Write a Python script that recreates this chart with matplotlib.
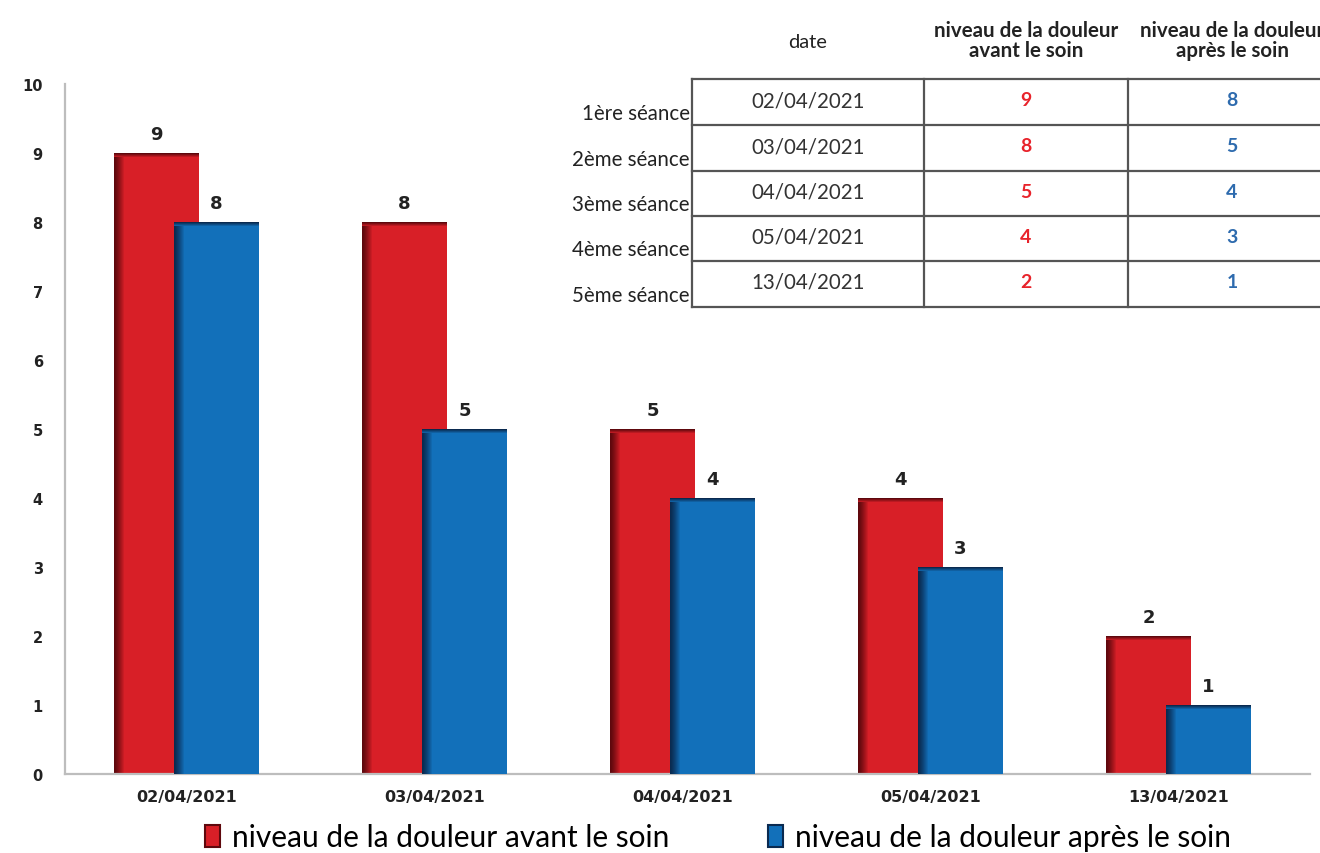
import matplotlib
matplotlib.use("Agg")
import matplotlib.pyplot as plt
from matplotlib.patches import Rectangle
import numpy as np

# Pain level per session, before and after care
dates = ["02/04/2021", "03/04/2021", "04/04/2021", "05/04/2021", "13/04/2021"]
sessions = ["1ère séance", "2ème séance", "3ème séance", "4ème séance", "5ème séance"]
avant = [9, 8, 5, 4, 2]
apres = [8, 5, 4, 3, 1]
label_avant = "niveau de la douleur avant le soin"
label_apres = "niveau de la douleur après le soin"
col_headers = ["date", "niveau de la douleur\navant le soin", "niveau de la douleur\naprès le soin"]
yticks = list(range(0, 11))

RED, RED_DARK = "#D81F27", "#5E080D"
BLUE, BLUE_DARK = "#1270BA", "#0A2A50"
TXT = "#222222"

W, H = 1320, 854
fig = plt.figure(figsize=(W / 100, H / 100), dpi=100)
ax = fig.add_axes([65 / W, 1 - 775 / H, 1245 / W, 690 / H])

x = np.arange(len(dates))
bw = 0.343
off = 0.121


def shade(bars, main, dark):
    """Give each bar a darker left edge and top rim."""
    cd = np.array(matplotlib.colors.to_rgb(dark))
    cm = np.array(matplotlib.colors.to_rgb(main))
    for b in bars:
        x0, w, h = b.get_x(), b.get_width(), b.get_height()
        n = 10
        edge = w * 0.12
        for i in range(n):
            t = (i / n) ** 1.3
            c = cd * (1 - t) + cm * t
            ax.add_patch(Rectangle((x0 + edge * i / n, 0), edge / n * 1.05, h,
                                   facecolor=c, edgecolor="none", zorder=b.get_zorder() + 0.1))
        rim = 0.06
        for i in range(4):
            t = i / 4
            c = cd * (1 - t) + cm * t
            ax.add_patch(Rectangle((x0, h - rim * (i + 1) / 4), w, rim / 4 * 1.05,
                                   facecolor=c, edgecolor="none", zorder=b.get_zorder() + 0.2))


b1 = ax.bar(x - off, avant, bw, color=RED, zorder=2, label=label_avant)
shade(b1, RED, RED_DARK)
b2 = ax.bar(x + off, apres, bw, color=BLUE, zorder=3, label=label_apres)
shade(b2, BLUE, BLUE_DARK)

for xi, v in zip(x - off, avant):
    ax.annotate(str(v), (xi, v), xytext=(0, 7), textcoords="offset points",
                ha="center", va="bottom", fontsize=13, fontweight="bold", color=TXT)
for xi, v in zip(x + off, apres):
    ax.annotate(str(v), (xi, v), xytext=(0, 7), textcoords="offset points",
                ha="center", va="bottom", fontsize=13, fontweight="bold", color=TXT)

ax.set_xlim(-0.49, 4.53)
ax.set_ylim(0, 10)
ax.set_yticks(yticks)
ax.set_yticklabels([str(t) for t in yticks], fontsize=10.5, fontweight="bold", color=TXT)
ax.set_xticks(x)
ax.set_xticklabels(dates, fontsize=11.5, fontweight="bold", color=TXT)
ax.tick_params(axis="y", length=0, pad=16)
ax.tick_params(axis="x", length=0, pad=11)
for s in ["top", "right"]:
    ax.spines[s].set_visible(False)
for s in ["left", "bottom"]:
    ax.spines[s].set_color("#BDBDBD")
    ax.spines[s].set_linewidth(1.6)

# legend at the bottom
handles = [Rectangle((0, 0), 1, 1, facecolor=RED, edgecolor=RED_DARK, linewidth=1.5),
           Rectangle((0, 0), 1, 1, facecolor=BLUE, edgecolor=BLUE_DARK, linewidth=1.5)]
fig.legend(handles, [label_avant, label_apres], loc="center",
           bbox_to_anchor=(718 / W, 1 - 838 / H), ncol=2, frameon=False,
           prop={"family": "Lato", "size": 21.5}, handlelength=0.5, handleheight=0.75,
           handletextpad=0.4, columnspacing=3.3)

# data table in the upper right, drawn in pixel coordinates
tx = fig.add_axes([0, 0, 1, 1], facecolor="none")
tx.set_xlim(0, W)
tx.set_ylim(H, 0)
tx.axis("off")
cols = [692, 924, 1128, 1340]
rows = [80, 126, 172, 217, 262, 308]
lc = "#555555"
for yy in rows:
    tx.plot([cols[0], cols[-1]], [yy, yy], color=lc, lw=1.6, clip_on=False)
for xx in cols[:-1]:
    tx.plot([xx, xx], [rows[0], rows[-1]], color=lc, lw=1.6)

tx.text(808, 42, col_headers[0], ha="center", va="center", fontsize=14.5,
        family="Lato", color=TXT)
tx.text(1026, 41, col_headers[1], ha="center", va="center", fontsize=14.8,
        family="Lato", fontweight="bold", color=TXT, linespacing=1.05)
tx.text(1232, 41, col_headers[2], ha="center", va="center", fontsize=14.8,
        family="Lato", fontweight="bold", color=TXT, linespacing=1.05)

for i in range(len(dates)):
    yc = (rows[i] + rows[i + 1]) / 2
    tx.text(690, rows[i + 1] - 12, sessions[i], ha="right", va="center", fontsize=14.8,
            family="Lato", color=TXT)
    tx.text(808, yc - 2, dates[i], ha="center", va="center", fontsize=14.8,
            family="Lato", color="#333333")
    tx.text(1026, yc - 2, str(avant[i]), ha="center", va="center", fontsize=14,
            family="Lato", fontweight="bold", color="#E8232B")
    tx.text(1232, yc - 2, str(apres[i]), ha="center", va="center", fontsize=14,
            family="Lato", fontweight="bold", color="#2E6BAE")

fig.savefig("out.png", dpi=100)
